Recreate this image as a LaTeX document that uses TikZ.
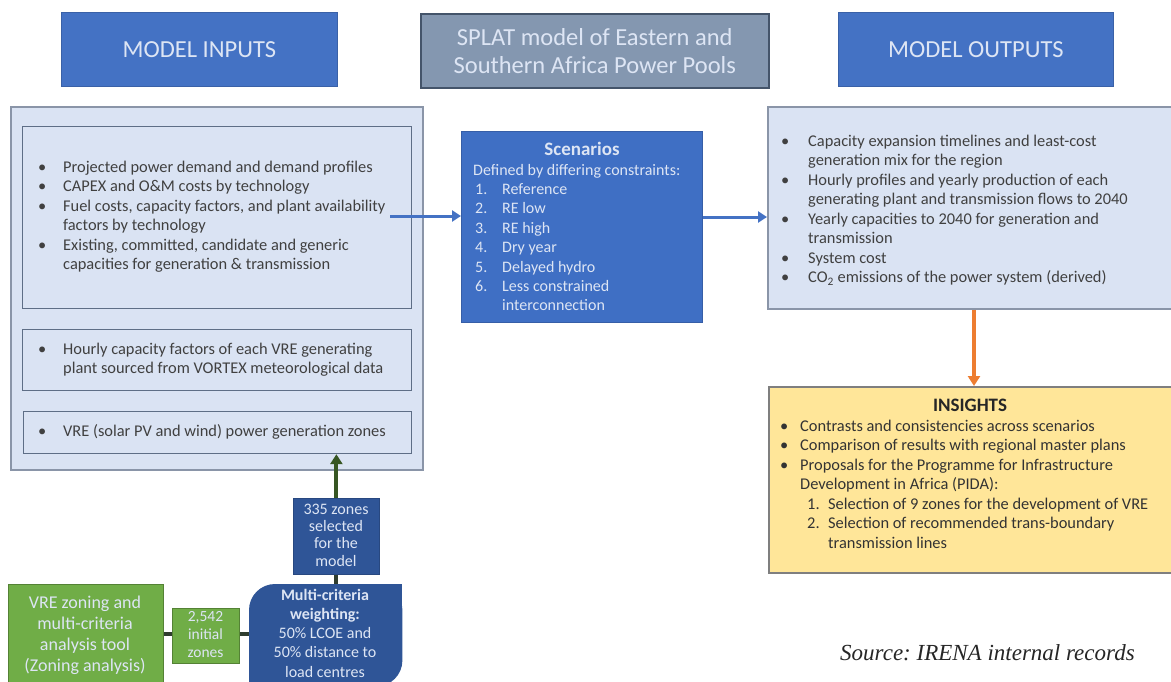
\documentclass[tikz,border=0pt]{standalone}
\usepackage{fontspec}
\setmainfont{Carlito}
\newfontfamily\srcfont{Liberation Serif}
\usetikzlibrary{arrows.meta}
\frenchspacing
\definecolor{hdrblue}{HTML}{4472C4}
\definecolor{hdrtext}{HTML}{DDE5F4}
\definecolor{splatfill}{HTML}{8497B0}
\definecolor{splatline}{HTML}{44546A}
\definecolor{lightfill}{HTML}{DAE3F3}
\definecolor{lightline}{HTML}{8A95A8}
\definecolor{innerline}{HTML}{5E6E86}
\definecolor{bodytext}{HTML}{404040}
\definecolor{scenfill}{HTML}{3F6FC4}
\definecolor{darkblue}{HTML}{2F5597}
\definecolor{vregreen}{HTML}{70AD47}
\definecolor{greenline}{HTML}{548235}
\definecolor{arrowgreen}{HTML}{375623}
\definecolor{linkdark}{HTML}{2F3D2F}
\definecolor{arroworange}{HTML}{ED7D31}
\definecolor{insfill}{HTML}{FFE699}
\definecolor{insline}{HTML}{7F7F7F}
\newcommand{\bul}[1]{\makebox[#1][l]{\textbullet}}
\newcommand{\numb}[2]{\makebox[#1][l]{#2}}
\begin{document}
\begin{tikzpicture}[x=1pt,y=-1pt,
  box/.style={inner sep=0pt, anchor=north west},
  hdr/.style={box, fill=hdrblue, draw=hdrblue!85!black, line width=0.8pt},
  hdrtxt/.style={text=hdrtext, font=\fontsize{24.5}{28}\selectfont, inner sep=0pt, align=center},
  panel/.style={box, fill=lightfill, draw=lightline, line width=1.5pt},
  inbox/.style={box, draw=innerline, line width=1.2pt},
  body/.style={font=\fontsize{16.4}{19.5}\selectfont, text=bodytext, align=left, inner sep=0pt, anchor=base west},
  lighttxt/.style={font=\fontsize{16}{19.4}\selectfont, text=hdrtext, align=left, inner sep=0pt, anchor=base west},
  ctrtxt/.style={text=hdrtext, align=center, inner sep=0pt, anchor=base},
  blueflow/.style={draw=hdrblue, line width=3pt, -{Triangle[length=9pt,width=11pt]}},
  link/.style={draw=linkdark, line width=4pt}
]
\clip (0,0) rectangle (1171,681);
\fill[white] (0,0) rectangle (1171,681);

% headers
\node[hdr, minimum width=276pt, minimum height=74pt] (hin) at (61,12) {};
\node[hdrtxt] (hintxt) at (hin.center) {MODEL INPUTS};
\node[box, fill=splatfill, draw=splatline, line width=1.5pt, minimum width=348pt, minimum height=74pt] (splat) at (420,13) {};
\node[hdrtxt, font=\fontsize{24.5}{28}\selectfont] (splattxt) at (splat.center) {SPLAT model of Eastern and\\Southern Africa Power Pools};
\node[hdr, minimum width=275pt, minimum height=74pt] (hout) at (838,12) {};
\node[hdrtxt] (houttxt) at (hout.center) {MODEL OUTPUTS};

% inputs panel
\node[panel, minimum width=412pt, minimum height=363pt] (inputs) at (10,106) {};
\node[inbox, minimum width=389pt, minimum height=182pt] (in1) at (22,126) {};
\node[inbox, minimum width=389pt, minimum height=61pt] (in2) at (22,329) {};
\node[inbox, minimum width=388pt, minimum height=42pt] (in3) at (23,411) {};
\node[body] (in1txt) at (38,269.5) {\bul{25pt}Projected power demand and demand profiles\\
\bul{25pt}CAPEX and O\&M costs by technology\\
\bul{25pt}Fuel costs, capacity factors, and plant availability\\
\hspace*{25pt}factors by technology\\
\bul{25pt}Existing, committed, candidate and generic\\
\hspace*{25pt}capacities for generation \& transmission};
\node[body] (in2txt) at (38,373.5) {\bul{25pt}Hourly capacity factors of each VRE generating\\
\hspace*{25pt}plant sourced from VORTEX meteorological data};
\node[body] (in3txt) at (38,436) {\bul{25pt}VRE (solar PV and wind) power generation zones};

% scenarios
\node[box, fill=scenfill, draw=scenfill!85!black, line width=0.8pt, minimum width=241pt, minimum height=191pt] (scen) at (461,131) {};
\node[ctrtxt, font=\bfseries\fontsize{19}{22}\selectfont] (scentitle) at (582,155) {Scenarios};
\node[lighttxt] (scentxt) at (473,310.8) {Defined by differing constraints:\\
\hspace*{2pt}\numb{27pt}{1.}Reference\\
\hspace*{2pt}\numb{27pt}{2.}RE low\\
\hspace*{2pt}\numb{27pt}{3.}RE high\\
\hspace*{2pt}\numb{27pt}{4.}Dry year\\
\hspace*{2pt}\numb{27pt}{5.}Delayed hydro\\
\hspace*{2pt}\numb{27pt}{6.}Less constrained\\
\hspace*{29pt}interconnection};

% outputs
\node[panel, minimum width=420pt, minimum height=202pt] (outputs) at (767,106) {};
\node[body] (outtxt) at (781,282.5) {\bul{27pt}Capacity expansion timelines and least-cost\\
\hspace*{27pt}generation mix for the region\\
\bul{27pt}Hourly profiles and yearly production of each\\
\hspace*{27pt}generating plant and transmission flows to 2040\\
\bul{27pt}Yearly capacities to 2040 for generation and\\
\hspace*{27pt}transmission\\
\bul{27pt}System cost\\
\bul{27pt}CO\textsubscript{2} emissions of the power system (derived)};

% insights
\node[box, fill=insfill, draw=insline, line width=1.5pt, minimum width=420pt, minimum height=186pt] (insights) at (768,386) {};
\node[ctrtxt, font=\bfseries\fontsize{19}{22}\selectfont, text=black!85] (institle) at (970,411) {INSIGHTS};
\node[body, text=black!80] (instxt) at (780,548) {\bul{20pt}Contrasts and consistencies across scenarios\\
\bul{20pt}Comparison of results with regional master plans\\
\bul{20pt}Proposals for the Programme for Infrastructure\\
\hspace*{20pt}Development in Africa (PIDA):\\
\hspace*{27pt}\numb{21pt}{1.}Selection of 9 zones for the development of VRE\\
\hspace*{27pt}\numb{21pt}{2.}Selection of recommended trans-boundary\\
\hspace*{48pt}transmission lines};

% bottom chain
\node[box, fill=darkblue, draw=darkblue!85!black, line width=0.8pt, minimum width=86pt, minimum height=76pt] (z335) at (293,498) {};
\node[ctrtxt, font=\fontsize{16}{17.3}\selectfont] (z335txt) at (336,566) {335 zones\\selected\\for the\\model};
\node[box, minimum width=153pt, minimum height=102pt] (multi) at (249,584) {};
\fill[darkblue, rounded corners=26pt] (multi.north west) rectangle (multi.south east);
\fill[darkblue] (multi.north east) rectangle ++(-30,30);
\fill[darkblue] (multi.south west) rectangle ++(30,-30);
\node[ctrtxt, font=\fontsize{16}{19.2}\selectfont] (multitxt) at (325,677) {\textbf{Multi-criteria}\\\textbf{weighting:}\\50\% LCOE and\\50\% distance to\\load centres};
\node[box, fill=vregreen, draw=greenline, line width=1pt, minimum width=155pt, minimum height=110pt] (vre) at (8,584) {};
\node[ctrtxt, font=\fontsize{18}{21}\selectfont] (vretxt) at (85,671) {VRE zoning and\\multi-criteria\\analysis tool\\(Zoning analysis)};
\node[box, fill=vregreen, draw=greenline, line width=1.2pt, minimum width=67pt, minimum height=55pt] (z2542) at (172,608) {};
\node[ctrtxt, font=\fontsize{15.5}{18}\selectfont] (z2542txt) at (205.5,657) {2,542\\initial\\zones};

% connectors
\coordinate (inarrow) at (390,216);
\draw[blueflow] (inarrow) -- (inarrow -| scen.west);
\draw[blueflow] (scen.east |- 0,217) -- (outputs.west |- 0,217);
\draw[draw=arroworange, line width=3.5pt, -{Triangle[length=10pt,width=12pt]}] (outputs.south -| 974,0) -- (insights.north -| 974,0);
\draw[draw=arrowgreen, line width=4pt, -{Triangle[length=10pt,width=12pt]}] (z335.north) -- (z335.north |- in3.south);
\draw[link] (z335.south) -- (z335.south |- multi.north);
\draw[link] (vre.east |- 0,634) -- (z2542.west |- 0,634);
\draw[link] (z2542.east |- 0,634) -- (multi.west |- 0,634);

% source
\node[font=\srcfont\itshape\fontsize{23}{28}\selectfont, text=black!85, inner sep=0pt, anchor=base west] (source) at (840,660) {Source: IRENA internal records};
\end{tikzpicture}
\end{document}
